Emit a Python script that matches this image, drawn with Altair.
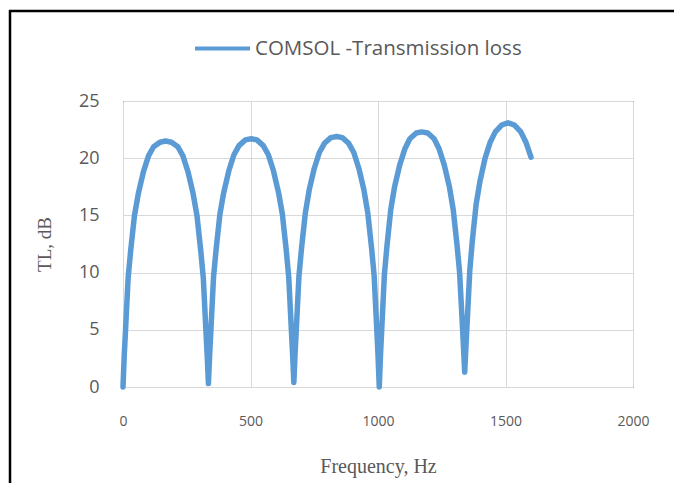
import altair as alt
import pandas as pd

series_name = "COMSOL -Transmission loss"

freq = [
    0, 5, 10, 20, 30, 45, 60, 80, 100, 120, 145, 167, 190, 215, 235, 255, 275, 290, 305, 315, 325, 330, 335,
    340, 345, 355, 365, 380, 395, 415, 435, 455, 480, 503, 525, 550, 570, 590, 610, 625, 640, 650, 660, 665, 670,
    675, 680, 690, 700, 715, 730, 750, 770, 790, 815, 838, 860, 885, 905, 925, 945, 960, 975, 985, 995, 1000, 1005,
    1010, 1015, 1025, 1035, 1050, 1065, 1085, 1105, 1125, 1150, 1172, 1195, 1220, 1240, 1260, 1280, 1295, 1310, 1320, 1330, 1335, 1340,
    1345, 1350, 1360, 1370, 1385, 1400, 1420, 1440, 1460, 1485, 1510, 1535, 1560, 1580, 1600,
]
tl = [
    0.0, 2.8, 5.0, 9.5, 11.9, 15.0, 16.9, 18.8, 20.2, 21.0, 21.4, 21.5, 21.4, 21.0, 20.2, 18.8, 16.9, 15.0, 11.9, 9.5, 5.0, 2.8, 0.3,
    2.9, 5.1, 9.6, 12.0, 15.1, 17.0, 18.9, 20.3, 21.1, 21.6, 21.7, 21.6, 21.1, 20.3, 18.9, 17.0, 15.1, 12.0, 9.6, 5.1, 2.9, 0.4,
    3.0, 5.2, 9.7, 12.1, 15.2, 17.2, 19.1, 20.5, 21.3, 21.8, 21.9, 21.8, 21.3, 20.5, 19.1, 17.2, 15.2, 12.1, 9.7, 5.1, 2.8, 0.0,
    2.9, 5.2, 9.8, 12.3, 15.5, 17.5, 19.4, 20.8, 21.7, 22.2, 22.3, 22.2, 21.7, 20.8, 19.4, 17.5, 15.5, 12.4, 10.0, 5.8, 3.6, 1.3,
    3.6, 5.8, 10.2, 12.8, 16.0, 18.0, 20.0, 21.4, 22.3, 22.9, 23.1, 22.9, 22.3, 21.4, 20.1,
]

x_ticks = [0, 500, 1000, 1500, 2000]
y_ticks = [0, 5, 10, 15, 20, 25]

df = pd.DataFrame({"Frequency": freq, "TL": tl, "Series": [series_name] * len(freq)})

line = alt.Chart(df).mark_line(
    strokeWidth=5.5, strokeCap="round", strokeJoin="round"
).encode(
    x=alt.X(
        "Frequency:Q",
        scale=alt.Scale(domain=[0, 2000], nice=False),
        axis=alt.Axis(
            values=x_ticks, format="d", title="Frequency, Hz", labelFontSize=14, labelPadding=27,
            labelFlush=False, titleFontSize=20,
            titleX=255, titleY=79, titleBaseline="middle", titleAlign="center",
        ),
    ),
    y=alt.Y(
        "TL:Q",
        scale=alt.Scale(domain=[0, 25], nice=False),
        axis=alt.Axis(
            values=y_ticks, format="d", title="TL, dB", labelFontSize=18, labelPadding=24,
            labelFlush=False, titleFontSize=19,
            titleX=-79, titleY=143, titleAngle=270, titleBaseline="middle", titleAlign="center",
        ),
    ),
    color=alt.Color(
        "Series:N",
        scale=alt.Scale(domain=[series_name], range=["#5b9bd5"]),
        legend=alt.Legend(
            title=None, orient="none", legendX=70, legendY=-82,
            symbolType="stroke", symbolSize=3025, symbolStrokeWidth=4,
            labelFontSize=20.5, labelFont="Open Sans", labelColor="#595959", labelOffset=3,
            labelLimit=1000,
        ),
    ),
)

edge_df = pd.DataFrame({"k": [0]})
left_edge = alt.Chart(edge_df).mark_rule(stroke="#000000", strokeWidth=2.5).encode(
    x=alt.value(-113), y=alt.value(-91), y2=alt.value(420)
)
top_edge = alt.Chart(edge_df).mark_rule(stroke="#000000", strokeWidth=2.5).encode(
    x=alt.value(-114), x2=alt.value(600), y=alt.value(-90)
)

chart = alt.layer(left_edge, top_edge, line).properties(
    width=510, height=286,
    autosize=alt.AutoSizeParams(type="none"),
    padding={"left": 115, "top": 93, "right": 41, "bottom": 96},
    background="white",
).configure_view(
    stroke="#000000", strokeWidth=1
).configure_axis(
    grid=True, gridColor="#d9d9d9", gridWidth=1, ticks=False, domain=False,
    labelFont="Open Sans", labelColor="#595959",
    titleFont="Liberation Serif", titleFontSize=18, titleFontWeight="normal", titleColor="#595959",
)

chart.save("out.html", embed_options={"renderer": "svg", "actions": False})
